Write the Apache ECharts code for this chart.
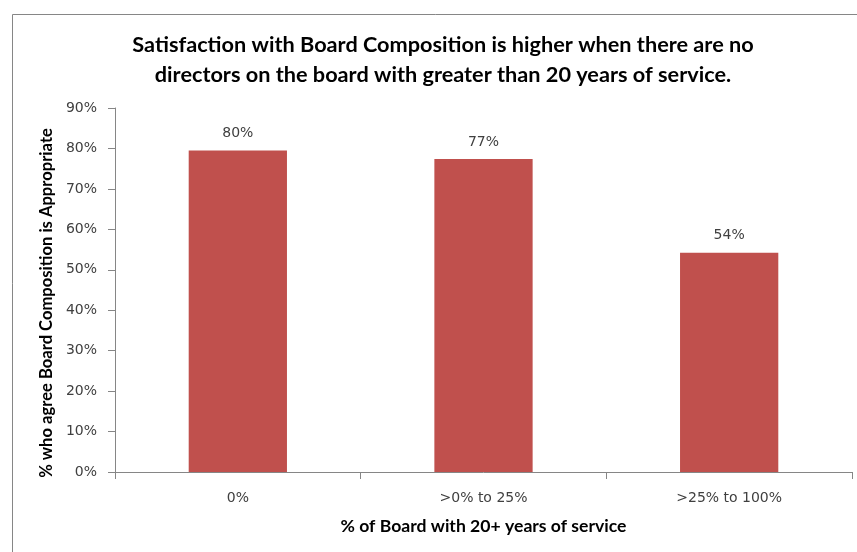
<!DOCTYPE html>
<html>
<head>
<meta charset="utf-8">
<script src="https://cdn.jsdelivr.net/npm/echarts@6/dist/echarts.min.js"></script>
<style>
html,body{margin:0;padding:0;background:#fff;}
#chart{width:857px;height:552px;}
</style>
</head>
<body>
<div id="chart"></div>
<script>
const categories = ['0%', '>0% to 25%', '>25% to 100%'];
const values = [79.5, 77.4, 54.2];
const titleLines = ['Satisfaction with Board Composition is higher when there are no', 'directors on the board with greater than 20 years of service.'];
const xAxisName = '% of Board with 20+ years of service';
const yAxisName = '% who agree Board Composition is Appropriate';

const BOLD_FONT = 'Lato, "Open Sans", sans-serif';
const TICK_FONT = '"DejaVu Sans", Verdana, sans-serif';
const chart = echarts.init(document.getElementById('chart'));
chart.setOption({
  animation: false,
  backgroundColor: '#fff',
  graphic: [{
    type: 'rect',
    shape: { x: 12.5, y: 14.5, width: 860, height: 560 },
    style: { fill: 'none', stroke: '#868686', lineWidth: 1 },
    silent: true, z: -1
  }, {
    type: 'text',
    x: 47, y: 303,
    rotation: Math.PI / 2,
    silent: true,
    style: {
      text: yAxisName,
      textAlign: 'center', textVerticalAlign: 'middle',
      fontFamily: BOLD_FONT, fontWeight: 'bold', fontSize: 16.6, fill: '#000'
    }
  }],
  title: {
    text: titleLines.join('\n'),
    left: 438, top: 25, textAlign: 'center',
    textStyle: { fontFamily: BOLD_FONT, fontWeight: 'bold', fontSize: 21.7, color: '#000', lineHeight: 30 }
  },
  grid: { left: 115, top: 108, right: 5, bottom: 80 },
  xAxis: {
    type: 'category',
    data: categories,
    name: xAxisName,
    nameLocation: 'middle',
    nameGap: 45,
    nameTextStyle: { fontFamily: BOLD_FONT, fontWeight: 'bold', fontSize: 17.6, color: '#000' },
    axisLine: { lineStyle: { color: '#868686', width: 1 } },
    axisTick: { show: true, alignWithLabel: false, length: 7, lineStyle: { color: '#868686' } },
    axisLabel: { margin: 19, fontFamily: TICK_FONT, fontSize: 14, color: '#404040' }
  },
  yAxis: {
    type: 'value',
    min: 0, max: 90, interval: 10,
    axisLine: { show: true, lineStyle: { color: '#868686', width: 1 } },
    axisTick: { show: true, length: 7, lineStyle: { color: '#868686' } },
    splitLine: { show: false },
    axisLabel: { margin: 18, fontFamily: TICK_FONT, fontSize: 14, color: '#404040', formatter: v => v + '%' }
  },
  series: [{
    type: 'bar',
    data: values,
    barWidth: '40%',
    itemStyle: { color: '#C0504D' },
    label: {
      show: true, position: 'top', distance: 10,
      fontFamily: TICK_FONT, fontSize: 14, color: '#404040',
      formatter: p => Math.round(p.value) + '%'
    }
  }]
});
</script>
</body>
</html>
